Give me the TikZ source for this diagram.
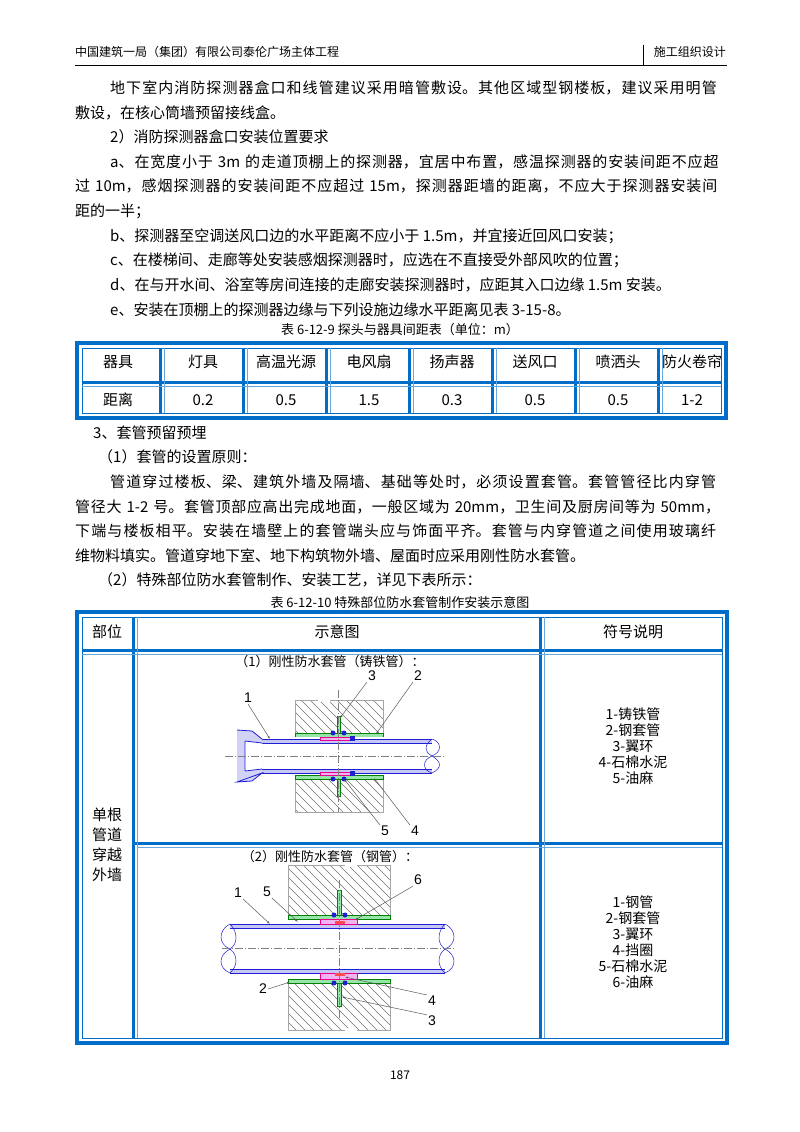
\documentclass[tikz,border=0pt]{standalone}
\usepackage{fontspec}
\setmainfont{Noto Sans CJK SC}
\newfontfamily\lab{Liberation Sans}
\XeTeXlinebreaklocale "zh"
\XeTeXlinebreakskip=0pt plus 3pt
\definecolor{tb}{RGB}{0,110,200}
\definecolor{pb}{RGB}{30,30,210}
\definecolor{sg}{RGB}{150,230,170}
\definecolor{pk}{RGB}{240,180,240}
\newcommand{\fl}[4]{\node[anchor=west,inner sep=0,text width=#3pt] at (#1,#2) {\parfillskip=0pt #4\par};}
\newcommand{\tl}[3]{\node[anchor=west,inner sep=0] at (#1,#2) {#3};}
\newcommand{\hatchbox}[4]{\begin{scope}\clip (#1,#2) rectangle (#3,#4);
 \foreach \i in {-120,-111,...,120} \draw[black!55,line width=.5] ({#1+\i},#2) -- ++(150,150);\end{scope}
 \draw[gray!70,line width=.5] (#1,#2) rectangle (#3,#4);}
\tikzset{ld/.style={gray!70!black,line width=.5,-{Latex[length=3pt,width=2pt]}},
 lb/.style={font=\lab\fontsize{14}{14}\selectfont,inner sep=1pt},
 pipe/.style={pb,line width=.8},
 cl/.style={gray,line width=.4,dash pattern=on 8pt off 2pt on 1pt off 2pt}}
\usetikzlibrary{arrows.meta}
\begin{document}
\begin{tikzpicture}[x=1pt,y=-1pt,font=\fontsize{15}{15}\selectfont]
\useasboundingbox (0,0) rectangle (800,1132);
\fill[white] (0,0) rectangle (800,1132);
% header
\node[anchor=west,inner sep=0,font=\fontsize{12}{12}\selectfont] (h1) at (75,52) {中国建筑一局（集团）有限公司泰伦广场主体工程};
\node[anchor=east,inner sep=0,font=\fontsize{12}{12}\selectfont] (h2) at (726,52) {施工组织设计};
\draw[line width=.6] (75,65) -- (727,65);
\draw[line width=.6] (643,45) -- (643,65);
% body text
\fl{110}{88}{617}{地下室内消防探测器盒口和线管建议采用暗管敷设。其他区域型钢楼板，建议采用明管}
\tl{75}{113}{敷设，在核心筒墙预留接线盒。}
\tl{110}{137}{2）消防探测器盒口安装位置要求}
\fl{110}{162}{617}{a、在宽度小于 3m 的走道顶棚上的探测器，宜居中布置，感温探测器的安装间距不应超}
\fl{75}{186}{652}{过 10m，感烟探测器的安装间距不应超过 15m，探测器距墙的距离，不应大于探测器安装间}
\tl{75}{211}{距的一半；}
\tl{110}{236}{b、探测器至空调送风口边的水平距离不应小于 1.5m，并宜接近回风口安装；}
\tl{110}{260}{c、在楼梯间、走廊等处安装感烟探测器时，应选在不直接受外部风吹的位置；}
\tl{110}{285}{d、在与开水间、浴室等房间连接的走廊安装探测器时，应距其入口边缘 1.5m 安装。}
\tl{110}{310}{e、安装在顶棚上的探测器边缘与下列设施边缘水平距离见表 3-15-8。}
\node[inner sep=0,font=\fontsize{13}{13}\selectfont] (c1) at (400,330) {表 6-12-9 探头与器具间距表（单位：m）};
% table 1
\draw[tb,line width=3.5] (77,343) rectangle (726,418);
\draw[tb,line width=.6] (82,348) rectangle (721,413);
\draw[tb,line width=3] (82,382) -- (721,382);
\foreach \x in {160,243,326,409,492,575,658}{\draw[tb,line width=3] (\x,348) -- (\x,413);
 \draw[tb!60,line width=.5] (\x+4,348) -- (\x+4,413);}
\draw[tb!60,line width=.5] (82,386) -- (721,386);
\foreach \t/\x [count=\i] in {器具/118,灯具/203,高温光源/286,电风扇/369,扬声器/452,送风口/535,喷洒头/618,防火卷帘/692}
 \node (ta\i) at (\x,362) {\t};
\foreach \t/\x [count=\i] in {距离/118,0.2/203,0.5/286,1.5/369,0.3/452,0.5/535,0.5/618,1-2/692}
 \node (tb\i) at (\x,400) {\t};
% more text
\tl{93}{433}{3、套管预留预埋}
\tl{98}{457}{（1）套管的设置原则：}
\fl{110}{482}{617}{管道穿过楼板、梁、建筑外墙及隔墙、基础等处时，必须设置套管。套管管径比内穿管}
\fl{75}{507}{652}{管径大 1-2 号。套管顶部应高出完成地面，一般区域为 20mm，卫生间及厨房间等为 50mm，}
\fl{75}{531}{652}{下端与楼板相平。安装在墙壁上的套管端头应与饰面平齐。套管与内穿管道之间使用玻璃纤}
\tl{75}{556}{维物料填实。管道穿地下室、地下构筑物外墙、屋面时应采用刚性防水套管。}
\tl{98}{580}{（2）特殊部位防水套管制作、安装工艺，详见下表所示：}
\node[inner sep=0,font=\fontsize{13}{13}\selectfont] (c2) at (400,603) {表 6-12-10 特殊部位防水套管制作安装示意图};
% table 2
\draw[tb,line width=3.5] (77,612) rectangle (727,1043);
\draw[tb,line width=.6] (82,617) rectangle (722,1038);
\draw[tb,line width=3] (82,650) -- (722,650);
\draw[tb,line width=3] (133,617) -- (133,1038);
\draw[tb,line width=3] (540,617) -- (540,1038);
\draw[tb,line width=3] (133,843) -- (722,843);
\draw[tb!60,line width=.5] (137,617) -- (137,1038) (544,617) -- (544,1038) (82,654) -- (722,654) (137,847) -- (722,847);
\node (hd1) at (107,632) {部位};
\node (hd2) at (337,632) {示意图};
\node (hd3) at (633,632) {符号说明};
\node[align=center,font=\fontsize{15}{20}\selectfont] (lc) at (107,845) {单根\\管道\\穿越\\外墙};
\node[align=center,font=\fontsize{14}{16}\selectfont] (lg1) at (633,746) {1-铸铁管\\2-钢套管\\3-翼环\\4-石棉水泥\\5-油麻};
\node[align=center,font=\fontsize{14}{16}\selectfont] (lg2) at (633,942) {1-钢管\\2-钢套管\\3-翼环\\4-挡圈\\5-石棉水泥\\6-油麻};
% drawing 1
\node[font=\fontsize{13}{13}\selectfont] (t1) at (330,662) {（1）刚性防水套管（铸铁管）：};
\hatchbox{295}{700}{383}{733}
\hatchbox{295}{779}{383}{812}
\fill[white] (318,698) rectangle (330,702);
\fill[sg] (295,733) rectangle (383,737); \draw[green!50!black,line width=.4] (295,733) rectangle (383,737);
\fill[sg] (295,775) rectangle (383,779); \draw[green!50!black,line width=.4] (295,775) rectangle (383,779);
\fill[sg] (337,716) rectangle (340,733); \draw[green!50!black,line width=.4] (337,716) rectangle (340,733);
\fill[sg] (337,779) rectangle (340,796); \draw[green!50!black,line width=.4] (337,779) rectangle (340,796);
\fill[white] (262,737) rectangle (432,775);
\fill[pb!25] (262,739) rectangle (432,743); \fill[pb!25] (262,769) rectangle (432,773);
\draw[pipe] (262,739) -- (432,739) (262,743) -- (432,743) (262,769) -- (432,769) (262,773) -- (432,773);
\draw[pipe,line width=.5] (432,739) .. controls (442,742) and (442,752) .. (432,756) .. controls (422,760) and (422,770) .. (432,773);
\draw[pipe,line width=.5] (432,739) .. controls (424,745) and (424,752) .. (432,756) .. controls (442,762) and (442,768) .. (432,773);
\fill[pb!20] (237,730) -- (252,731) -- (262,739) -- (262,773) -- (252,781) -- (237,782) -- cycle;
\fill[white] (245,741) -- (262,743) -- (262,769) -- (245,771) -- cycle;
\draw[pipe] (237,730) -- (252,731) -- (262,739) (262,773) -- (252,781) -- (237,782) -- cycle (245,741) -- (245,771) (245,741) -- (262,743) (245,771) -- (262,769);
\fill[pk] (320,737) rectangle (350,740); \draw[magenta,line width=.3] (320,737) rectangle (350,740);
\fill[pk] (320,772) rectangle (350,775); \draw[magenta,line width=.3] (320,772) rectangle (350,775);
\fill[pb] (350,736) rectangle (355,741); \fill[pb] (350,771) rectangle (355,776);
\fill[pb] (333,733) circle (2.5); \fill[pb] (344,733) circle (2.5);
\fill[pb] (333,779) circle (2.5); \fill[pb] (344,779) circle (2.5);
\draw[cl] (225,756) -- (445,756);
\draw[cl] (338,690) -- (338,812);
\node[lb] (n11) at (248,698) {1}; \coordinate (e11) at (270,739);
\node[lb] (n13) at (372,676) {3}; \coordinate (e13) at (340,718);
\node[lb] (n12) at (418,676) {2}; \coordinate (e12) at (376,734);
\node[lb] (n15) at (385,831) {5}; \coordinate (e15) at (344,779);
\node[lb] (n14) at (415,831) {4}; \coordinate (e14) at (374,778);
\draw[ld] (n11.south) -- (e11); \draw[ld] (n13.south west) -- (e13); \draw[ld] (n12.south west) -- (e12);
\draw[ld] (n15.north west) -- (e15); \draw[ld] (n14.north west) -- (e14);
% drawing 2
\node[font=\fontsize{13}{13}\selectfont] (t2) at (330,857) {（2）刚性防水套管（钢管）：};
\hatchbox{288}{865}{390}{915}
\hatchbox{288}{983}{390}{1030}
\fill[white] (345,863) rectangle (357,867); \fill[white] (345,1028) rectangle (357,1032);
\fill[sg] (288,915) rectangle (390,919); \draw[green!50!black,line width=.4] (288,915) rectangle (390,919);
\fill[sg] (288,979) rectangle (390,983); \draw[green!50!black,line width=.4] (288,979) rectangle (390,983);
\fill[sg] (337,890) rectangle (341,915); \draw[green!50!black,line width=.4] (337,890) rectangle (341,915);
\fill[sg] (337,983) rectangle (341,1006); \draw[green!50!black,line width=.4] (337,983) rectangle (341,1006);
\fill[pb!25] (230,924) rectangle (445,928); \fill[pb!25] (230,969) rectangle (445,973);
\draw[pipe] (230,924) -- (445,924) (230,928) -- (445,928) (230,969) -- (445,969) (230,973) -- (445,973);
\draw[pb,line width=.5] (230,924) .. controls (218,930) and (218,944) .. (230,949) .. controls (218,955) and (218,968) .. (230,973);
\draw[pb,line width=.5] (230,924) .. controls (238,932) and (238,944) .. (230,949) .. controls (238,955) and (238,966) .. (230,973);
\draw[pb,line width=.5] (445,924) .. controls (457,930) and (457,944) .. (445,949) .. controls (457,955) and (457,968) .. (445,973);
\draw[pb,line width=.5] (445,924) .. controls (437,932) and (437,944) .. (445,949) .. controls (437,955) and (437,966) .. (445,973);
\fill[pk] (320,919) rectangle (357,924); \draw[magenta,line width=.3] (320,919) rectangle (357,924);
\fill[pk] (320,973) rectangle (357,979); \draw[magenta,line width=.3] (320,973) rectangle (357,979);
\fill[red!70] (335,921) rectangle (345,924); \fill[red!70] (335,973) rectangle (345,976);
\fill[pb] (334,915) circle (2.5); \fill[pb] (345,915) circle (2.5);
\fill[pb] (334,983) circle (2.5); \fill[pb] (345,983) circle (2.5);
\draw[cl] (222,948) -- (455,948);
\draw[cl] (339,880) -- (339,1020);
\node[lb] (n21) at (238,893) {1}; \coordinate (e21) at (270,924);
\node[lb] (n25) at (267,892) {5}; \coordinate (e25) at (298,922);
\node[lb] (n26) at (418,880) {6}; \coordinate (e26) at (355,920);
\node[lb] (n22) at (263,989) {2}; \coordinate (e22) at (290,982);
\node[lb] (n24) at (432,1001) {4}; \coordinate (e24) at (345,977);
\node[lb] (n23) at (432,1021) {3}; \coordinate (e23) at (342,997);
\draw[ld] (n21.south east) -- (e21); \draw[ld] (n25.south east) -- (e25); \draw[ld] (n26.south west) -- (e26);
\draw[ld] (n22.east) -- (e22); \draw[ld] (n24.north west) -- (e24); \draw[ld] (n23.north west) -- (e23);
\node[font=\fontsize{12}{12}\selectfont] (pg) at (400,1075) {187};
\end{tikzpicture}
\end{document}
